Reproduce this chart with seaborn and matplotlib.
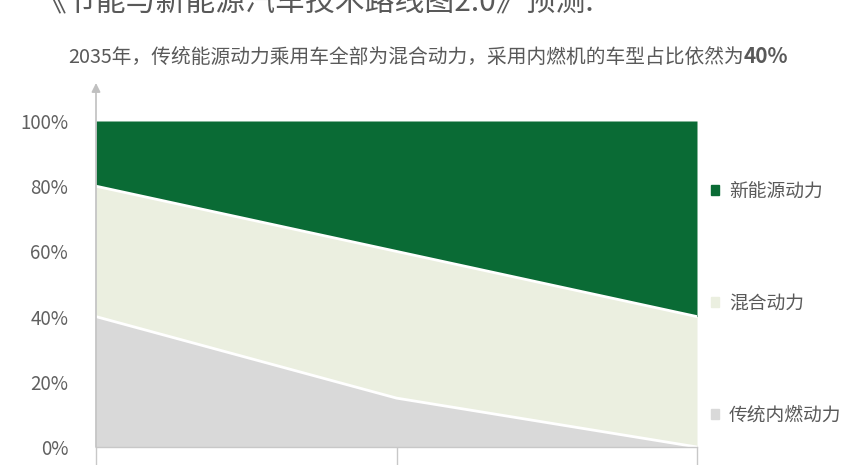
import matplotlib
matplotlib.use("Agg")
import matplotlib.pyplot as plt
import matplotlib.patches as mpatches
import seaborn as sns
import pandas as pd

# data (share of passenger cars, %)
years = ["2020", "2025", "2035"]
ice = [40, 15, 0]        # 传统内燃动力
hybrid = [40, 45, 40]    # 混合动力
nev = [20, 40, 60]       # 新能源动力
series_names = ["传统内燃动力", "混合动力", "新能源动力"]
colors = ["#d9d9d9", "#ebefe0", "#0a6b35"]

sns.set_theme(style="white")
plt.rcParams["font.family"] = ["Noto Sans CJK SC", "DejaVu Sans"]

df = pd.DataFrame({"year": years, "ice": ice, "hybrid": hybrid, "nev": nev})
df["x"] = range(len(df))
df["b1"] = df["ice"] / 100
df["b2"] = (df["ice"] + df["hybrid"]) / 100

fig = plt.figure(figsize=(8.52, 4.65), dpi=100)
ax = fig.add_axes([96 / 852, 18 / 465, 601 / 852, 364 / 465])

ax.stackplot(df["x"], df["ice"] / 100, df["hybrid"] / 100, df["nev"] / 100,
             colors=colors, linewidth=0)
# white seams between the bands
sns.lineplot(x="x", y="b1", data=df, ax=ax, color="white", linewidth=2)
sns.lineplot(x="x", y="b2", data=df, ax=ax, color="white", linewidth=2)

ax.set_xlim(0, 2)
ax.set_ylim(0, 364 / 326)
ax.set_yticks([0, 0.2, 0.4, 0.6, 0.8, 1.0])
ax.set_yticklabels(["0%", "20%", "40%", "60%", "80%", "100%"])
ax.set_xticks(df["x"])
ax.set_xticklabels([])
ax.set_xlabel("")
ax.set_ylabel("")
ax.tick_params(axis="y", length=0, pad=20, labelsize=13.5, labelcolor="#606060")
ax.tick_params(axis="x", direction="out", length=14, width=1, color="#c8c8c8", bottom=True)

for s in ["top", "right", "left"]:
    ax.spines[s].set_visible(False)
ax.spines["bottom"].set_color("#c8c8c8")
ax.spines["bottom"].set_linewidth(1)

# y axis with arrow head
ax.annotate("", xy=(0, 1.0), xytext=(0, 0), xycoords="axes fraction",
            arrowprops=dict(arrowstyle="-|>", color="#c0c0c0", lw=1.2,
                            mutation_scale=13, shrinkA=0, shrinkB=0),
            zorder=5, annotation_clip=False)

# legend on the right
handles = [mpatches.Patch(color=colors[2], label=series_names[2]),
           mpatches.Patch(color=colors[1], label=series_names[1]),
           mpatches.Patch(color=colors[0], label=series_names[0])]
fig.legend(handles=handles, loc="upper left", bbox_to_anchor=(711 / 852, 1 - 181 / 465),
           frameon=False, fontsize=13.5, labelcolor="#595959",
           handlelength=0.45, handleheight=0.45, handletextpad=0.5,
           labelspacing=4.85, borderaxespad=0, borderpad=0)

# title (cut off at top, as in the source) and subtitle
fig.text(36 / 852, 1 - 3 / 465, "《节能与新能源汽车技术路线图2.0》预测:",
         fontsize=21.5, color="#595959", va="center", ha="left")
sub = fig.text(68 / 852, 1 - 57 / 465,
               "2035年，传统能源动力乘用车全部为混合动力，采用内燃机的车型占比依然为",
               fontsize=14.2, color="#595959", va="center", ha="left")
fig.canvas.draw()
bb = sub.get_window_extent(renderer=fig.canvas.get_renderer())
fig.text(bb.x1 / fig.bbox.width, 1 - 56 / 465, "40%", fontsize=15,
         fontweight="bold", color="#595959", va="center", ha="left")

fig.savefig("out.png", dpi=100)
